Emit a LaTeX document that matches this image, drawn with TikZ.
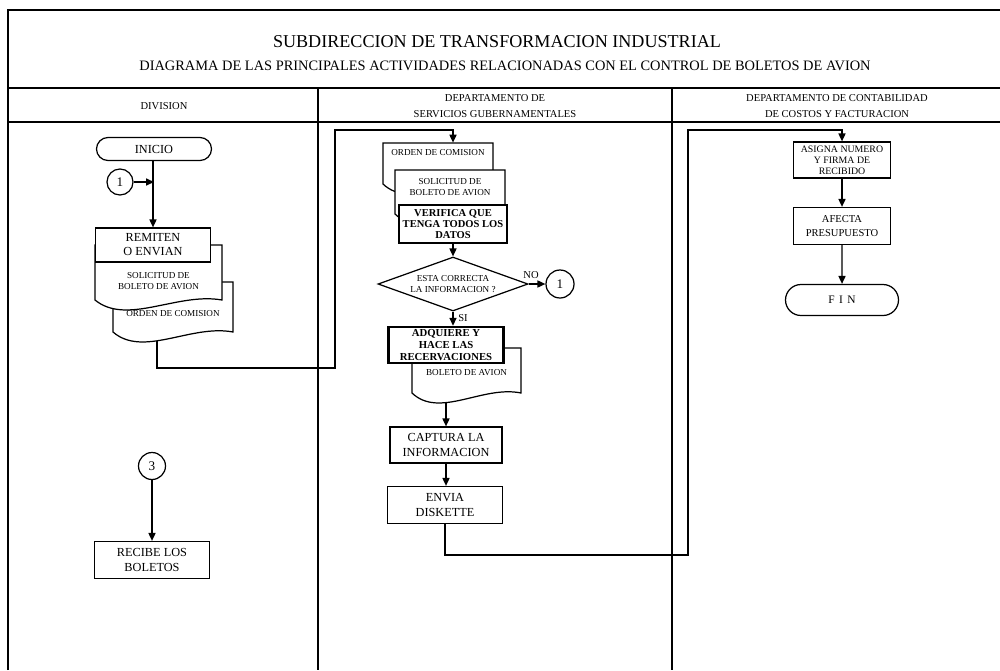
\documentclass[tikz,border=0pt]{standalone}
\usepackage{fontspec}
\setmainfont{Liberation Serif}
\usetikzlibrary{arrows.meta,shapes.geometric,shapes.misc,calc,backgrounds}

% document symbol: outline with a wavy bottom edge, then the named text node on top
% #1 name, #2 cx, #3 cy, #4 width, #5 text height, #6 extra above, #7 extra below, #8 text
\newcommand\docnode[8]{%
  \draw[docline] ({#2-#4/2},{#3-#5/2-#6}) -- ({#2-#4/2},{#3+#5/2+#7})
     .. controls +({0.25*#4},26) and +({-0.35*#4},-8) .. ({#2+#4/2},{#3+#5/2+#7})
     -- ({#2+#4/2},{#3-#5/2-#6}) -- cycle;
  \node[doctext,minimum width={#4*0.02cm},minimum height={#5*0.02cm}] (#1) at (#2,#3) {#8};}

\begin{document}
\begin{tikzpicture}[x=0.02cm,y=-0.02cm,
  frame/.style={line width=0.9pt},
  sz/.style 2 args={minimum width={#1*0.02cm},minimum height={#2*0.02cm}},
  box/.style={draw,fill=white,line width=0.7pt,align=center,inner sep=0pt,
    font=\fontsize{7}{8}\selectfont},
  thickbox/.style={box,line width=1.4pt,font=\fontsize{6}{6.4}\selectfont\bfseries},
  term/.style={box,rounded rectangle},
  conn/.style={draw,fill=white,circle,line width=0.7pt,inner sep=0pt,
    minimum size={#1*0.02cm},font=\fontsize{7.5}{8}\selectfont},
  decision/.style={draw,fill=white,diamond,aspect=2.75,line width=0.7pt,inner sep=0pt,
    align=center,font=\fontsize{5.2}{6.4}\selectfont},
  docline/.style={draw,fill=white,line width=0.7pt},
  doctext/.style={inner sep=0pt,align=center,font=\fontsize{5.2}{6.2}\selectfont},
  flow/.style={line width=0.8pt},
  arr/.style={flow,-{Triangle[length=4.5pt,width=4pt]}},
  lbl/.style={inner sep=0pt,font=\fontsize{6}{7}\selectfont},
  head/.style={inner sep=0pt,align=center,font=\fontsize{6}{9}\selectfont},
]
\useasboundingbox (0,0) rectangle (1000,670);

% ---- frame, title band and swimlanes
\draw[frame] (8,670) -- (8,10) -- (1000,10);
\draw[frame] (8,88) -- (1000,88);
\draw[frame] (8,122) -- (1000,122);
\draw[frame] (318,88) -- (318,670);
\draw[frame] (672,88) -- (672,670);

\node[inner sep=0pt,font=\fontsize{10.3}{12}\selectfont] (title) at (497,42)
  {SUBDIRECCION DE TRANSFORMACION INDUSTRIAL};
\node[inner sep=0pt,font=\fontsize{8.2}{10}\selectfont] (subtitle) at (505,66)
  {DIAGRAMA DE LAS PRINCIPALES ACTIVIDADES RELACIONADAS CON EL CONTROL DE BOLETOS DE AVION};

\node[head] (h1) at (164,106) {DIVISION};
\node[head] (h2) at (495,106) {DEPARTAMENTO DE\\SERVICIOS GUBERNAMENTALES};
\node[head] (h3) at (837,106) {DEPARTAMENTO DE CONTABILIDAD\\DE COSTOS Y FACTURACION};

% ---- DIVISION
\node[term,sz={115}{23}] (ini) at (154,149) {INICIO};
\node[conn=26] (c1) at (120,182) {1};

\docnode{ld2}{173}{314}{120}{16}{24}{10}{ORDEN DE COMISION}
\docnode{ld1}{158.5}{281}{127}{20}{26}{9}{SOLICITUD DE\\BOLETO DE AVION}
\node[box,sz={115}{34}] (rem) at (153,245) {REMITEN\\O ENVIAN};

\draw[arr] (c1) -- (c1 -| ini);
\draw[arr] (ini.south -| rem.north) -- (rem.north);

\node[conn=27] (c3) at (152,466) {3};
\node[box,sz={115}{37}] (rec) at (152,560) {RECIBE LOS\\BOLETOS};
\draw[arr] (c3) -- (rec);

% ---- DEPARTAMENTO DE SERVICIOS GUBERNAMENTALES
\docnode{md1}{438}{153}{110}{20}{0}{21}{ORDEN DE COMISION}
\docnode{md2}{450}{187}{110}{34}{0}{10}{SOLICITUD DE\\BOLETO DE AVION}
\node[thickbox,sz={108}{38}] (ver) at (453,224) {VERIFICA QUE\\TENGA TODOS LOS\\DATOS};
\node[decision,sz={150}{54}] (dia) at (453,284) {ESTA CORRECTA\\LA INFORMACION ?};
\node[conn=28] (c1b) at (560,284) {1};
\docnode{md3}{466.5}{373}{109}{16}{17}{12}{BOLETO DE AVION}
\node[thickbox,sz={115}{36},font=\fontsize{6.1}{6.6}\selectfont\bfseries] (adq) at (446,345)
  {ADQUIERE Y\\HACE LAS\\RECERVACIONES};
\node[box,sz={112}{36}] (cap) at (446,445) {CAPTURA LA\\INFORMACION};
\node[box,sz={115}{37}] (env) at (445,505) {ENVIA\\DISKETTE};

\draw[arr] (ver.south) -- (ver.south |- dia.north);
\draw[arr] (dia) -- (c1b);
\node[lbl] (no) at (531,275) {NO};
\draw[arr] (dia.south) -- (dia.south |- adq.north);
\node[lbl] (si) at (463,318) {SI};
\draw[arr] (cap.south) -- (cap.south |- env.north);

% ---- DEPARTAMENTO DE CONTABILIDAD DE COSTOS Y FACTURACION
\node[box,sz={97}{36},font=\fontsize{5.6}{6.2}\selectfont] (asg) at (842,160)
  {ASIGNA NUMERO\\Y FIRMA DE\\RECIBIDO};
\node[box,sz={97}{37},font=\fontsize{6}{7.5}\selectfont] (afe) at (842,226)
  {AFECTA\\PRESUPUESTO};
\node[term,sz={113}{31},font=\fontsize{6.5}{7}\selectfont] (fin) at (842,300)
  {F\hspace{2.5pt}I\hspace{2.5pt}N};
\draw[arr] (asg) -- (afe);
\draw[arr] (afe) -- (fin);

% ---- flows between lanes (kept behind the document symbols)
\coordinate (l1) at (335,368);
\coordinate (l2) at (335,130);
\coordinate (r1) at (688,555);
\coordinate (r2) at (688,130);
\begin{pgfonlayer}{background}
  \draw[arr] ($(ld2.center)+(-16,0)$) |- (l1) -- (l2) -| (ver.north |- md1.north);
  \draw[arr] (cap.north |- md3.center) -- (cap.north);
  \draw[arr] (env.south) |- (r1) -- (r2) -| (asg.north);
\end{pgfonlayer}
\end{tikzpicture}
\end{document}
